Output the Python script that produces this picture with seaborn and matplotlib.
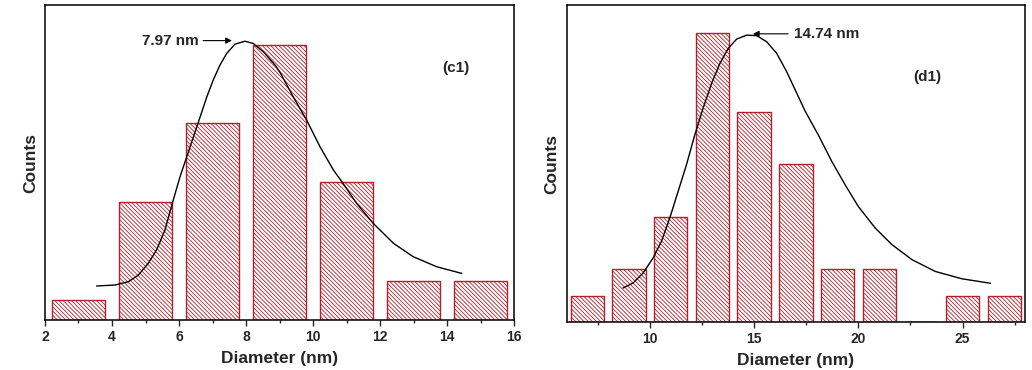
import matplotlib
matplotlib.use("Agg")
import matplotlib.pyplot as plt
import seaborn as sns

# ---- data ----
c1_centers = [3, 5, 7, 9, 11, 13, 15]
c1_counts = [1, 6, 10, 14, 7, 2, 2]
c1_fit_x = [3.54, 4.09, 4.49, 4.79, 5.08, 5.33, 5.58, 5.80, 6.03, 6.23, 6.43,
            6.63, 6.83, 7.02, 7.22, 7.42, 7.67, 7.97, 8.22, 8.52, 8.87, 9.01,
            9.41, 9.81, 10.21, 10.61, 10.90, 11.30, 11.80, 12.40, 12.99,
            13.69, 14.44]
c1_fit_y = [1.73, 1.78, 1.95, 2.29, 2.88, 3.56, 4.57, 5.93, 7.28, 8.29, 9.31,
            10.32, 11.34, 12.19, 12.95, 13.54, 14.02, 14.17, 14.05, 13.63, 12.95,
            12.6, 11.34, 10.16, 8.80, 7.62, 6.94, 5.93, 4.91, 3.90, 3.22,
            2.71, 2.37]

d1_centers = [7, 9, 11, 13, 15, 17, 19, 21, 23, 25, 27]
d1_counts = [1, 2, 4, 11, 8, 6, 2, 2, 0, 1, 1]
d1_fit_x = [8.71, 9.19, 9.67, 10.15, 10.55, 10.95, 11.35, 11.75, 12.15, 12.55,
            12.96, 13.36, 13.76, 14.16, 14.64, 15.12, 15.60, 16.08, 16.56,
            17.44, 18.08, 18.73, 19.37, 20.0, 20.81, 21.61, 22.57, 23.69,
            24.97, 26.34]
d1_fit_y = [1.29, 1.48, 1.86, 2.43, 3.06, 3.95, 4.96, 5.97, 7.11, 8.13,
            9.08, 9.84, 10.41, 10.76, 10.91, 10.89, 10.66, 10.22, 9.52,
            8.03, 7.11, 6.10, 5.21, 4.39, 3.57, 2.94, 2.37, 1.92,
            1.64, 1.47]

c1_peak_label = "7.97 nm"
d1_peak_label = "14.74 nm"

sns.set_style("ticks")
plt.rcParams["font.family"] = ["Liberation Sans", "DejaVu Sans"]
plt.rcParams["hatch.linewidth"] = 0.6

RED = "#B3202A"
HATCH = "\\" * 8

fig = plt.figure(figsize=(10.32, 3.70), dpi=100)
ax1 = fig.add_axes([0.0436, 0.135, 0.4545, 0.851])
ax2 = fig.add_axes([0.549, 0.130, 0.4443, 0.856])


def draw(ax, centers, counts, fx, fy):
    sns.barplot(x=centers, y=counts, native_scale=True, width=0.8, ax=ax,
                color="white", edgecolor=RED, linewidth=1.0, hatch=HATCH,
                saturation=1)
    sns.lineplot(x=fx, y=fy, ax=ax, color="black", lw=1.0, sort=False,
                 estimator=None)
    for sp in ax.spines.values():
        sp.set_visible(True)
        sp.set_color("black")
        sp.set_linewidth(1.1)
    ax.set_yticks([])
    ax.set_xlabel("Diameter (nm)", fontsize=12.5, fontweight="bold", labelpad=5)
    ax.set_ylabel("Counts", fontsize=12.5, fontweight="bold", labelpad=5)
    ax.tick_params(axis="x", which="major", direction="out", length=4, width=1,
                   labelsize=10, pad=3)
    ax.tick_params(axis="x", which="minor", direction="out", length=2, width=1)


draw(ax1, c1_centers, c1_counts, c1_fit_x, c1_fit_y)
ax1.set_xlim(2, 16)
ax1.set_ylim(0, 16)
ax1.set_xticks(range(2, 17, 2))
ax1.set_xticks(range(3, 17, 2), minor=True)
ax1.set_xticklabels([str(v) for v in range(2, 17, 2)], fontweight="bold")
ax1.annotate("", xy=(7.58, 14.2), xytext=(6.72, 14.2),
             arrowprops=dict(arrowstyle="-|>", color="black", lw=0.8,
                             mutation_scale=9, shrinkA=0, shrinkB=0))
ax1.text(6.6, 14.2, c1_peak_label, ha="right", va="center", fontsize=11,
         fontweight="bold")
ax1.text(14.27, 12.8, "(c1)", ha="center", va="center", fontsize=11,
         fontweight="bold")

draw(ax2, d1_centers, d1_counts, d1_fit_x, d1_fit_y)
ax2.set_xlim(6, 28)
ax2.set_ylim(0, 12.05)
ax2.set_xticks([10, 15, 20, 25])
ax2.set_xticks([7.5, 12.5, 17.5, 22.5, 27.5], minor=True)
ax2.set_xticklabels(["10", "15", "20", "25"], fontweight="bold")
ax2.annotate("", xy=(14.94, 10.96), xytext=(16.63, 10.96),
             arrowprops=dict(arrowstyle="-|>", color="black", lw=0.8,
                             mutation_scale=9, shrinkA=0, shrinkB=0))
ax2.text(16.9, 10.96, d1_peak_label, ha="left", va="center", fontsize=11,
         fontweight="bold")
ax2.text(23.3, 9.32, "(d1)", ha="center", va="center", fontsize=11,
         fontweight="bold")

fig.savefig("out.png", dpi=100)
